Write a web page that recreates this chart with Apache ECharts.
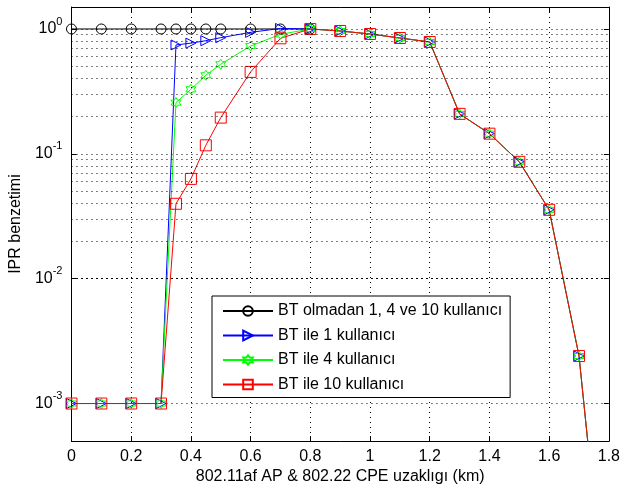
<!DOCTYPE html>
<html>
<head>
<meta charset="utf-8">
<script src="https://cdn.jsdelivr.net/npm/echarts@6/dist/echarts.min.js"></script>
<style>
html,body{margin:0;padding:0;background:#fff;}
#chart{width:623px;height:490px;}
</style>
</head>
<body>
<div id="chart"></div>
<script>
// ---- data ----
var distances = [0, 0.1, 0.2, 0.3, 0.35, 0.4, 0.45, 0.5, 0.6, 0.7, 0.8, 0.9, 1.0, 1.1, 1.2, 1.3, 1.4, 1.5, 1.6, 1.7, 1.8];
var noBT = [1, 1, 1, 1, 1, 1, 1, 1, 1, 1, 1];
var bt1 = [0.001, 0.001, 0.001, 0.001, 0.745, 0.77, 0.806, 0.852, 0.94, 1.01, 1.0, 0.964, 0.912, 0.847, 0.787, 0.209, 0.145, 0.0863, 0.0356, 0.0024, 0.000011];
var bt4 = [0.001, 0.001, 0.001, 0.001, 0.257, 0.329, 0.426, 0.522, 0.731, 0.906, 1.0, 0.964, 0.912, 0.847, 0.787, 0.209, 0.145, 0.0863, 0.0356, 0.0024, 0.000011];
var bt10 = [0.001, 0.001, 0.001, 0.001, 0.0398, 0.063, 0.117, 0.195, 0.453, 0.842, 1.0, 0.964, 0.912, 0.847, 0.787, 0.209, 0.145, 0.0863, 0.0356, 0.0024, 0.000011];
var seriesNames = ['BT olmadan 1, 4 ve 10 kullanıcı', 'BT ile 1 kullanıcı', 'BT ile 4 kullanıcı', 'BT ile 10 kullanıcı'];
var xTicks = [0, 0.2, 0.4, 0.6, 0.8, 1, 1.2, 1.4, 1.6, 1.8];
var yDecades = [0.001, 0.01, 0.1, 1];
var yMinor = [0.0006, 0.0007, 0.0008, 0.0009,
  0.002, 0.003, 0.004, 0.005, 0.006, 0.007, 0.008, 0.009,
  0.02, 0.03, 0.04, 0.05, 0.06, 0.07, 0.08, 0.09,
  0.2, 0.3, 0.4, 0.5, 0.6, 0.7, 0.8, 0.9];
var xName = '802.11af AP & 802.22 CPE uzaklıgı (km)';
var yName = 'IPR benzetimi';

function pairs(vals) {
  return vals.map(function (v, i) { return [distances[i], v]; });
}

var FONT = 'Liberation Sans, Arial, sans-serif';
var hexagram = 'path://M0,-10L2.887,-5L8.66,-5L5.774,0L8.66,5L2.887,5L0,10L-2.887,5L-8.66,5L-5.774,0L-8.66,-5L-2.887,-5Z';
var dotted = {color: '#000', width: 1, type: [1, 4]};

function yLabel(v) {
  for (var i = 0; i < yDecades.length; i++) {
    if (Math.abs(v - yDecades[i]) / yDecades[i] < 1e-6) {
      var e = Math.round(Math.log10(v));
      return '{a|10}{b|' + e + '}';
    }
  }
  return '';
}

var chart = echarts.init(document.getElementById('chart'), null, {renderer: 'canvas'});
var option = {
  animation: false,
  backgroundColor: '#fff',
  grid: {left: 66, top: 7, right: 8, bottom: 48},
  legend: {
    orient: 'vertical', left: 212, top: 296,
    itemWidth: 50, itemHeight: 12, itemGap: 8.5,
    padding: [7, 8, 5, 10],
    borderColor: '#000', borderWidth: 1, backgroundColor: '#fff',
    textStyle: {fontFamily: FONT, fontSize: 16, color: '#000'},
    data: seriesNames
  },
  xAxis: [{
    type: 'value', min: 0, max: 1.8, interval: 0.2,
    name: xName, nameLocation: 'middle', nameGap: 27,
    nameTextStyle: {fontFamily: FONT, fontSize: 16, color: '#000'},
    axisLine: {show: true, onZero: false, lineStyle: {color: '#000', width: 1}},
    axisTick: {show: true, inside: true, length: 5, lineStyle: {color: '#000'}},
    axisLabel: {fontFamily: FONT, fontSize: 16, color: '#000', margin: 7,
      formatter: function (v) { return xTicks.indexOf(Math.round(v * 10) / 10) >= 0 ? String(Math.round(v * 10) / 10) : ''; }},
    splitLine: {show: true, lineStyle: dotted}
  }, {
    type: 'value', min: 0, max: 1.8, interval: 0.2, position: 'top',
    axisLine: {show: true, onZero: false, lineStyle: {color: '#000', width: 1}},
    axisTick: {show: true, inside: true, length: 5, lineStyle: {color: '#000'}},
    axisLabel: {show: false}, splitLine: {show: false}
  }],
  yAxis: [{
    type: 'log', logBase: 10, min: 0.0005, max: 1.5,
    name: yName, nameLocation: 'middle', nameGap: 33,
    nameTextStyle: {fontFamily: FONT, fontSize: 16, color: '#000'},
    axisLine: {show: true, onZero: false, lineStyle: {color: '#000', width: 1}},
    axisTick: {show: true, inside: true, length: 5, lineStyle: {color: '#000'}},
    axisLabel: {margin: 9, formatter: yLabel,
      rich: {
        a: {fontFamily: FONT, fontSize: 16, color: '#000', lineHeight: 26, verticalAlign: 'middle'},
        b: {fontFamily: FONT, fontSize: 11, color: '#000', lineHeight: 12, verticalAlign: 'top'}
      }},
    splitLine: {show: true, lineStyle: dotted}
  }, {
    type: 'log', logBase: 10, min: 0.0005, max: 1.5, position: 'right',
    axisLine: {show: true, onZero: false, lineStyle: {color: '#000', width: 1}},
    axisTick: {show: true, inside: true, length: 5, lineStyle: {color: '#000'}},
    axisLabel: {show: false}, splitLine: {show: false}
  }],
  series: [{
    name: seriesNames[0], type: 'line', data: pairs(noBT),
    symbol: 'circle', symbolSize: 10, showAllSymbol: true,
    lineStyle: {color: '#000', width: 1},
    itemStyle: {color: 'none', borderColor: '#000', borderWidth: 1},
    markLine: {
      silent: true, symbol: 'none', label: {show: false},
      lineStyle: dotted, animation: false,
      data: yMinor.map(function (v) { return {yAxis: v}; })
    }
  }, {
    name: seriesNames[1], type: 'line', data: pairs(bt1),
    symbol: 'triangle', symbolRotate: -90, symbolSize: 10, showAllSymbol: true,
    lineStyle: {color: '#0000ff', width: 1},
    itemStyle: {color: 'none', borderColor: '#0000ff', borderWidth: 1}
  }, {
    name: seriesNames[2], type: 'line', data: pairs(bt4),
    symbol: hexagram, symbolSize: 10, showAllSymbol: true,
    lineStyle: {color: '#00ff00', width: 1},
    itemStyle: {color: 'none', borderColor: '#00ff00', borderWidth: 1}
  }, {
    name: seriesNames[3], type: 'line', data: pairs(bt10),
    symbol: 'rect', symbolSize: 11, showAllSymbol: true,
    lineStyle: {color: '#ff0000', width: 1},
    itemStyle: {color: 'none', borderColor: '#ff0000', borderWidth: 1}
  }]
};
chart.setOption(option);
</script>
</body>
</html>
